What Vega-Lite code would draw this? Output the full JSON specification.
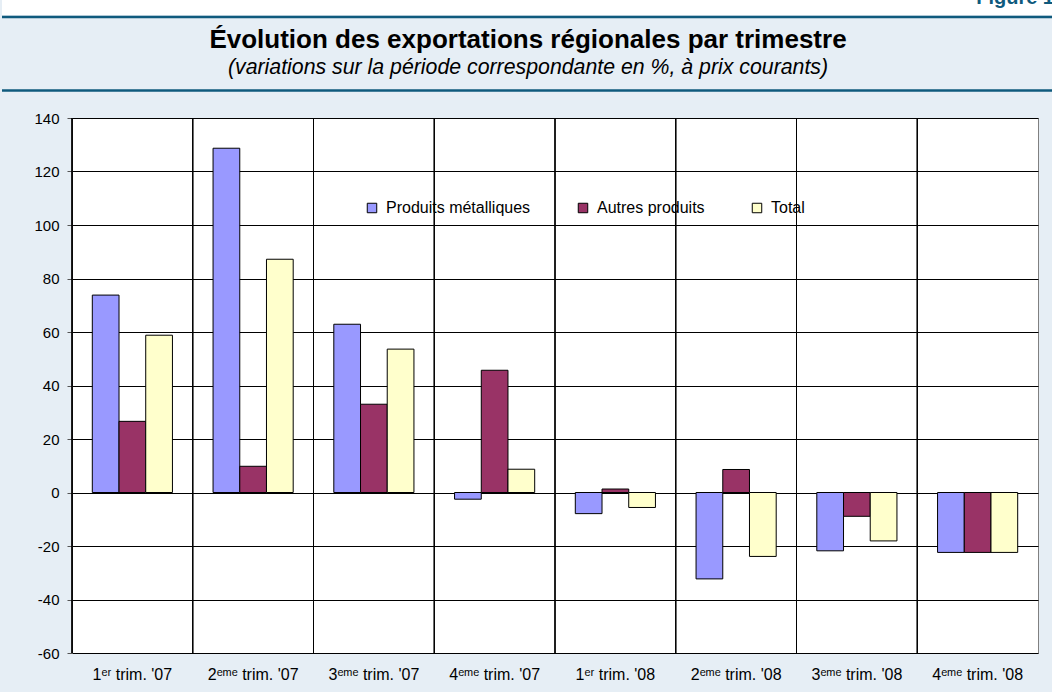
{
  "$schema": "https://vega.github.io/schema/vega-lite/v6.json",
  "background": "#e6eef5",
  "padding": {"left": 0, "top": 0, "right": 0, "bottom": 9},
  "spacing": 0,
  "config": {
    "font": "Liberation Sans",
    "view": {"stroke": null}
  },
  "vconcat": [
    {
      "width": 1052,
      "height": 15,
      "view": {"fill": "white", "stroke": null},
      "data": {"values": [{"label": "Figure 1"}]},
      "mark": {"type": "text", "clip": true, "align": "right", "baseline": "bottom", "fontSize": 20, "fontWeight": "bold", "color": "#0f5a7d"},
      "encoding": {
        "x": {"field": "label", "type": "nominal", "scale": {"type": "point", "align": 1, "padding": 0}, "axis": null},
        "text": {"field": "label"}
      }
    },
    {
      "width": 1052,
      "height": 73.5,
      "view": {"fill": "#e6eef5", "stroke": null},
      "data": {"values": [
        {"line": "top", "text": ""},
        {"line": "t", "text": "Évolution des exportations régionales par trimestre"},
        {"line": "s", "text": "(variations sur la période correspondante en %, à prix courants)"},
        {"line": "bottom", "text": ""}
      ]},
      "encoding": {
        "y": {"field": "line", "type": "nominal", "scale": {"type": "point", "domain": ["top", "t", "s", "bottom"], "padding": 0}, "axis": null}
      },
      "layer": [
        {"transform": [{"filter": "datum.line === 'top' || datum.line === 'bottom'"}], "mark": {"type": "rule", "color": "#0f5a7d", "strokeWidth": 2.5}},
        {"transform": [{"filter": "datum.line === 't'"}], "mark": {"type": "text", "fontSize": 26, "fontWeight": "bold", "color": "#000000", "dy": -2}, "encoding": {"text": {"field": "text"}}},
        {"transform": [{"filter": "datum.line === 's'"}], "mark": {"type": "text", "fontSize": 21.3, "fontStyle": "italic", "color": "#000000", "dy": 2}, "encoding": {"text": {"field": "text"}}}
      ]
    },
    {
      "spacing": 0,
      "hconcat": [
        {
          "width": 1,
          "height": 535,
          "view": {"fill": null, "stroke": null},
          "data": {"values": [{"n": ""}]},
          "mark": {"type": "text"},
          "encoding": {"text": {"field": "n"}}
        },
        {
          "width": 966,
          "height": 535,
          "title": {"text": " ", "fontSize": 10, "offset": 8},
          "view": {"fill": "white", "stroke": "#808080"},
          "data": {"values": [
            {"q": "1ᵉʳ trim. '07", "s": "Produits métalliques", "v": 73.8},
            {"q": "1ᵉʳ trim. '07", "s": "Autres produits", "v": 26.6},
            {"q": "1ᵉʳ trim. '07", "s": "Total", "v": 58.8},
            {"q": "2ᵉᵐᵉ trim. '07", "s": "Produits métalliques", "v": 128.7},
            {"q": "2ᵉᵐᵉ trim. '07", "s": "Autres produits", "v": 9.8},
            {"q": "2ᵉᵐᵉ trim. '07", "s": "Total", "v": 87.2},
            {"q": "3ᵉᵐᵉ trim. '07", "s": "Produits métalliques", "v": 62.9},
            {"q": "3ᵉᵐᵉ trim. '07", "s": "Autres produits", "v": 33.0},
            {"q": "3ᵉᵐᵉ trim. '07", "s": "Total", "v": 53.6},
            {"q": "4ᵉᵐᵉ trim. '07", "s": "Produits métalliques", "v": -2.5},
            {"q": "4ᵉᵐᵉ trim. '07", "s": "Autres produits", "v": 45.7},
            {"q": "4ᵉᵐᵉ trim. '07", "s": "Total", "v": 8.7},
            {"q": "1ᵉʳ trim. '08", "s": "Produits métalliques", "v": -7.9},
            {"q": "1ᵉʳ trim. '08", "s": "Autres produits", "v": 1.3},
            {"q": "1ᵉʳ trim. '08", "s": "Total", "v": -5.6},
            {"q": "2ᵉᵐᵉ trim. '08", "s": "Produits métalliques", "v": -32.3},
            {"q": "2ᵉᵐᵉ trim. '08", "s": "Autres produits", "v": 8.6},
            {"q": "2ᵉᵐᵉ trim. '08", "s": "Total", "v": -23.9},
            {"q": "3ᵉᵐᵉ trim. '08", "s": "Produits métalliques", "v": -21.8},
            {"q": "3ᵉᵐᵉ trim. '08", "s": "Autres produits", "v": -8.9},
            {"q": "3ᵉᵐᵉ trim. '08", "s": "Total", "v": -18.1},
            {"q": "4ᵉᵐᵉ trim. '08", "s": "Produits métalliques", "v": -22.4},
            {"q": "4ᵉᵐᵉ trim. '08", "s": "Autres produits", "v": -22.4},
            {"q": "4ᵉᵐᵉ trim. '08", "s": "Total", "v": -22.4}
          ]},
          "layer": [
            {
              "mark": {"type": "rule", "color": "#000000", "strokeWidth": 1},
              "encoding": {
                "x": {"field": "q", "type": "nominal", "sort": null, "bandPosition": 0,
                      "scale": {"paddingInner": 0, "paddingOuter": 0},
                      "axis": {"title": null, "labelAngle": 0, "ticks": false, "domain": false, "grid": false, "labelFontSize": 16, "labelColor": "#000000", "labelPadding": 13}}
              }
            },
            {
              "mark": {"type": "bar", "stroke": "#000000", "strokeWidth": 1},
              "encoding": {
                "x": {"field": "q", "type": "nominal", "sort": null,
                      "scale": {"paddingInner": 0, "paddingOuter": 0},
                      "axis": {"title": null, "labelAngle": 0, "ticks": false, "domain": false, "grid": false, "labelFontSize": 16, "labelColor": "#000000", "labelPadding": 13}},
                "xOffset": {"field": "s", "type": "nominal", "sort": ["Produits métalliques", "Autres produits", "Total"], "scale": {"paddingInner": 0, "paddingOuter": 0.76}},
                "y": {"field": "v", "type": "quantitative",
                      "scale": {"domain": [-60, 140], "nice": false, "zero": false},
                      "axis": {"values": [-60, -40, -20, 0, 20, 40, 60, 80, 100, 120, 140], "title": " ", "titleFontSize": 10, "titlePadding": 20,
                               "labelExpr": "replace(datum.label, '−', '-')",
                               "grid": true, "gridColor": "#000000", "gridWidth": 1, "domainColor": "#555555", "tickColor": "#555555", "tickSize": 5,
                               "labelFontSize": 15, "labelColor": "#000000", "labelPadding": 8}},
                "color": {"field": "s", "type": "nominal", "sort": ["Produits métalliques", "Autres produits", "Total"],
                          "scale": {"domain": ["Produits métalliques", "Autres produits", "Total"], "range": ["#9999ff", "#993366", "#ffffcc"]},
                          "legend": {"title": null, "orient": "none", "direction": "horizontal", "legendX": 362, "legendY": 200,
                                     "symbolType": "square", "symbolSize": 90, "symbolStrokeColor": "#000000", "symbolStrokeWidth": 1, "symbolOpacity": 1,
                                     "labelFontSize": 16, "labelColor": "#000000", "labelOffset": 6, "columnPadding": 44, "padding": 0}}
              }
            }
          ]
        }
      ]
    }
  ]
}
